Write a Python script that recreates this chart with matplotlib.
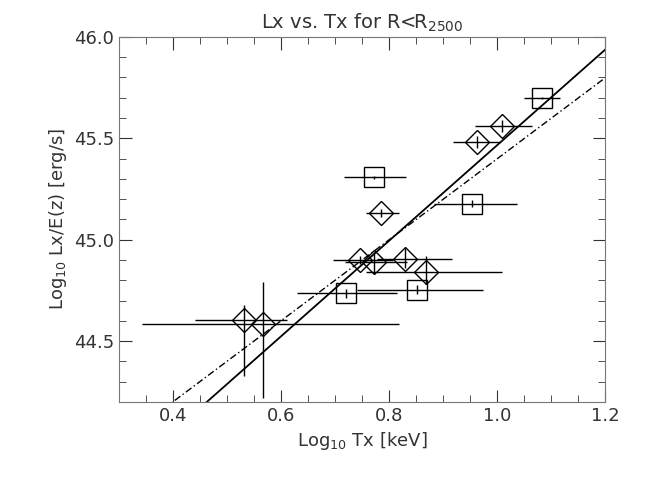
import matplotlib
matplotlib.use("Agg")
import matplotlib.pyplot as plt
import numpy as np
from matplotlib.ticker import MultipleLocator

# diamonds
d_x = [0.531, 0.567, 0.746, 0.771, 0.785, 0.829, 0.869, 0.963, 1.009]
d_y = [44.602, 44.584, 44.90, 44.888, 45.13, 44.905, 44.84, 45.48, 45.56]
d_xlo = [0.441, 0.342, 0.695, 0.718, 0.757, 0.777, 0.757, 0.919, 0.959]
d_xhi = [0.610, 0.819, 0.807, 0.833, 0.819, 0.916, 1.009, 1.006, 1.064]
d_ylo = [44.33, 44.22, 44.88, 44.83, 45.11, 44.86, 44.78, 45.45, 45.53]
d_yhi = [44.68, 44.79, 44.92, 44.94, 45.15, 44.96, 44.92, 45.51, 45.59]
# squares
s_x = [0.720, 0.771, 0.851, 0.954, 1.083]
s_y = [44.735, 45.308, 44.752, 45.177, 45.70]
s_xlo = [0.629, 0.717, 0.740, 0.882, 1.050]
s_xhi = [0.814, 0.831, 0.973, 1.036, 1.117]
s_ylo = [44.715, 45.30, 44.73, 45.16, 45.695]
s_yhi = [44.755, 45.316, 44.775, 45.195, 45.705]
# fits
fit_solid = (2.354, 45.937 - 2.354 * 1.2)
fit_dashdot = (1.995, 45.798 - 1.995 * 1.2)

fig = plt.figure(figsize=(6.48, 4.78), dpi=100)
ax = fig.add_axes([0.184, 0.159, 0.750, 0.764])

def plot_set(x, y, xlo, xhi, ylo, yhi, marker, ms):
    x = np.array(x); y = np.array(y)
    xe = [x - np.array(xlo), np.array(xhi) - x]
    ye = [y - np.array(ylo), np.array(yhi) - y]
    ax.errorbar(x, y, xerr=xe, yerr=ye, fmt='none', ecolor='black', elinewidth=1, capsize=0)
    ax.plot(x, y, linestyle='none', marker=marker, ms=ms, mfc='none', mec='black', mew=1)

plot_set(d_x, d_y, d_xlo, d_xhi, d_ylo, d_yhi, 'D', 12)
plot_set(s_x, s_y, s_xlo, s_xhi, s_ylo, s_yhi, 's', 14)

xx = np.array([0.3, 1.2])
ax.plot(xx, fit_solid[0] * xx + fit_solid[1], color='black', lw=1.3)
ax.plot(xx, fit_dashdot[0] * xx + fit_dashdot[1], color='black', lw=1, linestyle=(0, (5, 2, 1, 2)))

ax.set_xlim(0.3, 1.2)
ax.set_ylim(44.2, 46.0)
ax.set_xticks([0.4, 0.6, 0.8, 1.0, 1.2])
ax.set_yticks([44.5, 45.0, 45.5, 46.0])
ax.xaxis.set_minor_locator(MultipleLocator(0.05))
ax.yaxis.set_minor_locator(MultipleLocator(0.1))
ax.tick_params(which='both', direction='in', top=True, right=True, labelsize=13, colors='#333333')
ax.tick_params(which='major', length=9)
ax.tick_params(which='minor', length=5)
for s in ax.spines.values():
    s.set_color('#777777')
ax.set_title(r'Lx vs. Tx for R<R$_{2500}$', fontsize=14, color='#333333')
ax.set_xlabel(r'Log$_{10}$ Tx [keV]', fontsize=13, color='#333333')
ax.set_ylabel(r'Log$_{10}$ Lx/E(z) [erg/s]', fontsize=13, color='#333333')
fig.savefig('out.png', dpi=100)
